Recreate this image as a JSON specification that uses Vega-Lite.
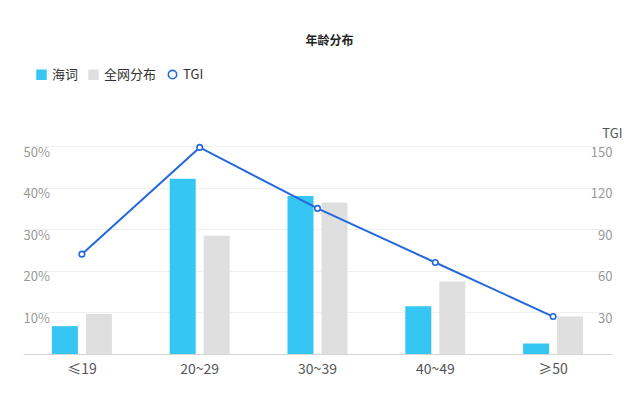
{
  "$schema": "https://vega.github.io/schema/vega-lite/v6.json",
  "autosize": {"type": "none"},
  "padding": {"left": 23, "top": 146, "right": 28, "bottom": 54},
  "width": 589,
  "height": 208,
  "background": "#ffffff",
  "config": {
    "font": "Noto Sans CJK SC",
    "view": {"stroke": null}
  },
  "title": {
    "text": "年龄分布",
    "fontSize": 12,
    "fontWeight": "bold",
    "color": "#222222",
    "anchor": "middle",
    "dx": 12,
    "dy": -3,
    "offset": 17
  },
  "datasets": {
    "share": [
      {"age": "≤19", "series": "海词", "value": 0.067},
      {"age": "≤19", "series": "全网分布", "value": 0.096},
      {"age": "20~29", "series": "海词", "value": 0.421},
      {"age": "20~29", "series": "全网分布", "value": 0.284},
      {"age": "30~39", "series": "海词", "value": 0.38},
      {"age": "30~39", "series": "全网分布", "value": 0.364},
      {"age": "40~49", "series": "海词", "value": 0.115},
      {"age": "40~49", "series": "全网分布", "value": 0.174},
      {"age": "≥50", "series": "海词", "value": 0.025},
      {"age": "≥50", "series": "全网分布", "value": 0.09}
    ],
    "tgi": [
      {"age": "≤19", "tgi": 72},
      {"age": "20~29", "tgi": 149},
      {"age": "30~39", "tgi": 105},
      {"age": "40~49", "tgi": 66},
      {"age": "≥50", "tgi": 27}
    ]
  },
  "encoding": {
    "x": {
      "field": "age",
      "type": "nominal",
      "sort": ["≤19", "20~29", "30~39", "40~49", "≥50"],
      "scale": {"paddingInner": 0, "paddingOuter": 0},
      "axis": {
        "title": null,
        "labelAngle": 0,
        "ticks": false,
        "domainColor": "#d4d4d4",
        "labelColor": "#555555",
        "labelFontSize": 14,
        "labelPadding": 8,
        "grid": false
      }
    }
  },
  "layer": [
    {
      "data": {"name": "share"},
      "mark": {"type": "bar"},
      "encoding": {
        "xOffset": {
          "field": "series",
          "type": "nominal",
          "sort": ["海词", "全网分布"],
          "scale": {"paddingInner": 0.235, "paddingOuter": 0.85}
        },
        "y": {
          "field": "value",
          "type": "quantitative",
          "scale": {"domain": [0, 0.5]},
          "axis": {
            "title": null,
            "values": [0.1, 0.2, 0.3, 0.4, 0.5],
            "format": ".0%",
            "orient": "left",
            "domain": false,
            "ticks": false,
            "labelAlign": "left",
            "labelBaseline": "top",
            "labelPadding": 0,
            "labelColor": "#999999",
            "labelFontSize": 13,
            "gridColor": "#f0f0f0"
          }
        },
        "color": {
          "field": "series",
          "type": "nominal",
          "scale": {
            "domain": ["海词", "全网分布", "TGI"],
            "range": ["#35c6f4", "#dfdfdf", "#2468dc"]
          },
          "legend": {
            "title": null,
            "orient": "none",
            "direction": "horizontal",
            "legendX": 12,
            "legendY": -78,
            "labelFontSize": 13,
            "labelColor": "#333333",
            "symbolSize": 110,
            "columnPadding": 8,
            "labelOffset": 4,
            "encode": {
              "symbols": {
                "update": {
                  "shape": {"signal": "datum.label === 'TGI' ? 'circle' : 'square'"},
                  "fillOpacity": {"signal": "datum.label === 'TGI' ? 0 : 1"},
                  "stroke": {"signal": "scale('color', datum.value)"},
                  "strokeWidth": {"signal": "datum.label === 'TGI' ? 1.6 : 0"},
                  "size": {"signal": "datum.label === 'TGI' ? 70 : 110"}
                }
              }
            }
          }
        }
      }
    },
    {
      "data": {"name": "tgi"},
      "mark": {
        "type": "line",
        "strokeWidth": 2,
        "point": {"filled": false, "fill": "#ffffff", "size": 30, "strokeWidth": 1.6}
      },
      "encoding": {
        "y": {
          "field": "tgi",
          "type": "quantitative",
          "scale": {"domain": [0, 150]},
          "axis": {
            "title": "TGI",
            "orient": "right",
            "values": [30, 60, 90, 120, 150],
            "grid": false,
            "domain": false,
            "ticks": false,
            "labelAlign": "right",
            "labelBaseline": "top",
            "labelPadding": 0,
            "labelColor": "#999999",
            "labelFontSize": 13,
            "titleAngle": 0,
            "titleAlign": "right",
            "titleBaseline": "alphabetic",
            "titleX": 10,
            "titleY": -9,
            "titleFontSize": 13,
            "titleFontWeight": "normal",
            "titleColor": "#555555"
          }
        },
        "color": {"datum": "TGI"}
      }
    }
  ],
  "resolve": {"scale": {"y": "independent"}}
}
